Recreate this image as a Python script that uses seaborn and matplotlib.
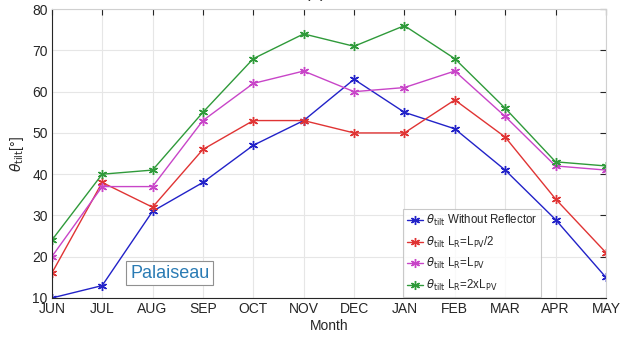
import matplotlib
matplotlib.use("Agg")
import matplotlib.pyplot as plt
import seaborn as sns
import pandas as pd

months = ["JUN", "JUL", "AUG", "SEP", "OCT", "NOV", "DEC", "JAN", "FEB", "MAR", "APR", "MAY"]
without_reflector = [10, 13, 31, 38, 47, 53, 63, 55, 51, 41, 29, 15]
lr_half = [16, 38, 32, 46, 53, 53, 50, 50, 58, 49, 34, 21]
lr_equal = [20, 37, 37, 53, 62, 65, 60, 61, 65, 54, 42, 41]
lr_double = [24, 40, 41, 55, 68, 74, 71, 76, 68, 56, 43, 42]

labels = [
    r"$\theta_{\mathrm{tilt}}$ Without Reflector",
    r"$\theta_{\mathrm{tilt}}$ L$_{\mathrm{R}}$=L$_{\mathrm{PV}}$/2",
    r"$\theta_{\mathrm{tilt}}$ L$_{\mathrm{R}}$=L$_{\mathrm{PV}}$",
    r"$\theta_{\mathrm{tilt}}$ L$_{\mathrm{R}}$=2xL$_{\mathrm{PV}}$",
]
series = [without_reflector, lr_half, lr_equal, lr_double]
colors = ["#2222c8", "#e03434", "#c845c8", "#2f9a3a"]

rows = []
for lab, vals in zip(labels, series):
    for i, v in enumerate(vals):
        rows.append({"idx": i, "value": v, "series": lab})
df = pd.DataFrame(rows)

sns.set_style("white")
plt.rcParams["font.family"] = ["Liberation Sans", "DejaVu Sans"]
plt.rcParams["mathtext.fontset"] = "dejavusans"

fig = plt.figure(figsize=(6.24, 3.39), dpi=100)
ax = fig.add_axes([0.083, 0.121, 0.888, 0.852])

sns.lineplot(data=df, x="idx", y="value", hue="series", hue_order=labels,
             palette=colors, marker=(6, 2, 0), markersize=6.5, markeredgewidth=1.0,
             linewidth=1.0, ax=ax, legend=True)
for ln in ax.lines:
    ln.set_markeredgecolor(ln.get_color())

ax.set_xlim(0, 11)
ax.set_ylim(10, 80)
ax.set_xticks(range(12))
ax.set_xticklabels(months)
ax.set_yticks(range(10, 81, 10))
ax.grid(True, color="#e6e6e6", linewidth=0.8)
ax.tick_params(direction="in", length=4, colors="#262626", labelsize=10,
               top=True, right=True, labeltop=False, labelright=False, pad=3)
for s in ax.spines.values():
    s.set_color("#d0d0d0")
    s.set_linewidth(0.8)
ax.spines["left"].set_color("#262626")
ax.spines["bottom"].set_color("#262626")

ax.set_xlabel("Month", fontsize=10, color="#262626", labelpad=2)
ax.set_ylabel(r"$\theta_{\mathrm{tilt}}$[°]", fontsize=10, color="#262626", labelpad=4)

handles, labs = ax.get_legend_handles_labels()
for h in handles:
    h.set_markeredgecolor(h.get_color())
leg = ax.legend(handles, labs, loc="lower left", bbox_to_anchor=(0.632, 0.0),
                fontsize=8.3, frameon=True, fancybox=False, borderpad=0.35,
                labelspacing=0.55, handlelength=1.4, handletextpad=0.2,
                borderaxespad=0.1)
leg.get_frame().set_edgecolor("#bcbcbc")
leg.get_frame().set_linewidth(0.8)

ax.text(2.34, 16.0, "Palaiseau", fontsize=13, color="#2a7bb4", ha="center", va="center",
        bbox=dict(boxstyle="square,pad=0.2", facecolor="white", edgecolor="#909090", linewidth=0.8))

fig.text(0.505, 1.02, "(a)", fontsize=12, ha="center", va="center", color="#262626")

fig.savefig("out.png", dpi=100)
